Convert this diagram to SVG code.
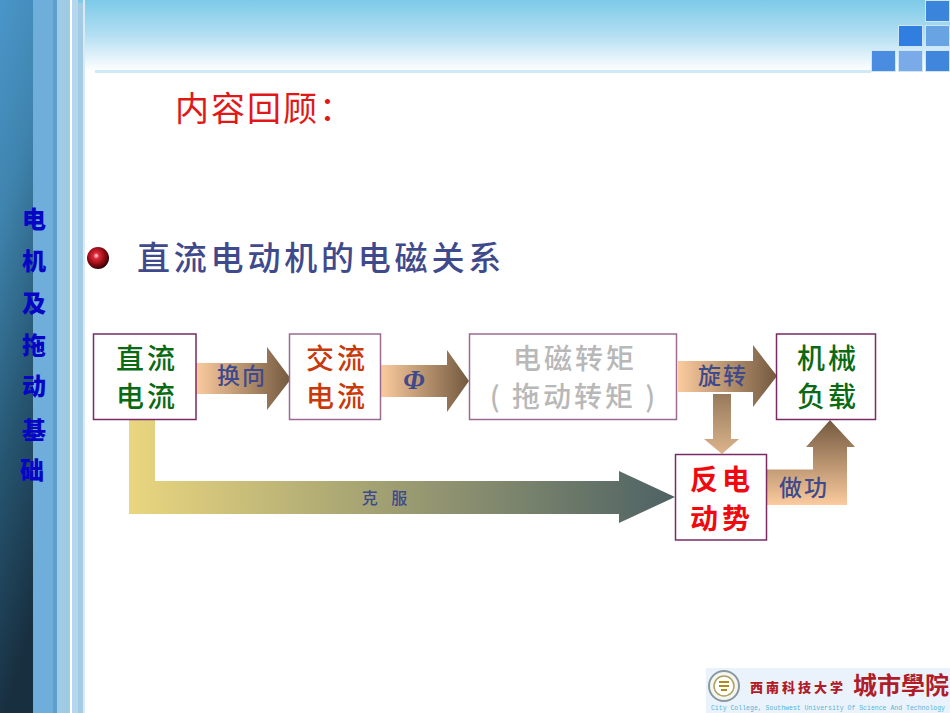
<svg xmlns="http://www.w3.org/2000/svg" width="950" height="713" viewBox="0 0 950 713">
<defs>
<linearGradient id="side" x1="0" y1="0" x2="0.15" y2="1"><stop offset="0" stop-color="#4a96ca"/><stop offset="0.3" stop-color="#3f84ae"/><stop offset="0.65" stop-color="#265570"/><stop offset="1" stop-color="#182f40"/></linearGradient>
<linearGradient id="top" x1="0" y1="0" x2="0" y2="1"><stop offset="0" stop-color="#7ccae8"/><stop offset="0.5" stop-color="#b4dff2"/><stop offset="1" stop-color="#ffffff"/></linearGradient>
<linearGradient id="ar" x1="0" y1="0" x2="1" y2="0"><stop offset="0" stop-color="#fbcb9e"/><stop offset="1" stop-color="#73593f"/></linearGradient>
<linearGradient id="ad" x1="0" y1="0" x2="0" y2="1"><stop offset="0" stop-color="#967a5c"/><stop offset="1" stop-color="#dcb48c"/></linearGradient>
<linearGradient id="au" x1="0" y1="1" x2="0" y2="0"><stop offset="0" stop-color="#fbcb9e"/><stop offset="1" stop-color="#73593f"/></linearGradient>
<linearGradient id="long" gradientUnits="userSpaceOnUse" x1="129" y1="0" x2="675" y2="0"><stop offset="0" stop-color="#ead67f"/><stop offset="1" stop-color="#4d6264"/></linearGradient>
<radialGradient id="ball" cx="0.42" cy="0.4" r="0.62"><stop offset="0" stop-color="#ffe0e0"/><stop offset="0.22" stop-color="#e02838"/><stop offset="0.65" stop-color="#8c0a12"/><stop offset="1" stop-color="#280306"/></radialGradient>
<style>
text{font-family:"Noto Sans CJK SC","Noto Sans",sans-serif;text-anchor:middle}
.box{fill:#fff;stroke:#7a2a66;stroke-width:1.5}
.t{font-size:28px;font-weight:500;letter-spacing:3px}
.e{font-size:28px;font-weight:700;letter-spacing:4px}
.lab{font-size:23px;font-weight:500;fill:#3f4a8c;letter-spacing:2px}
.sb{font-size:24px;font-weight:900;fill:#0606c4}
</style>
</defs>
<rect width="950" height="713" fill="#fff"/>
<g id="background">
<rect x="78" y="0" width="872" height="71" fill="url(#top)"/>
<rect x="0" y="0" width="33" height="713" fill="url(#side)"/>
<rect x="33" y="0" width="20" height="713" fill="#6fadda"/>
<rect x="53" y="0" width="4" height="713" fill="#5da0cf"/>
<rect x="57" y="0" width="13" height="713" fill="#9fcbe4"/>
<rect x="70" y="0" width="2" height="713" fill="#fff"/>
<rect x="72" y="0" width="6" height="713" fill="#b5d6ec"/>
<rect x="78" y="3" width="5" height="710" fill="#a3cbe4"/>
<rect x="83" y="0" width="2" height="713" fill="#d8eaf6"/>
<rect x="95" y="70" width="776" height="3" fill="#cfe9f7"/>
<g stroke="#cde6f6" stroke-width="1">
<rect x="925.500" y="0.500" width="24" height="21" fill="#3a84dc"/>
<rect x="898.500" y="25.500" width="24" height="21" fill="#2f7ee0"/>
<rect x="925.500" y="25.500" width="24" height="21" fill="#68a4e4"/>
<rect x="871.500" y="50.500" width="24" height="21" fill="#4a8cdf"/>
<rect x="898.500" y="50.500" width="24" height="21" fill="#7aaae8"/>
<rect x="925.500" y="50.500" width="24" height="21" fill="#3f86dc"/>
</g>
</g>
<g id="sidebar-title">
<text class="sb" x="34" y="228">电</text>
<text class="sb" x="34" y="270">机</text>
<text class="sb" x="34" y="312">及</text>
<text class="sb" x="34" y="354">拖</text>
<text class="sb" x="34" y="395">动</text>
<text class="sb" x="34" y="439">基</text>
<text class="sb" x="32" y="479">础</text>
</g>
<g id="heading">
<text x="175" y="121" font-size="34" fill="#e01818" font-weight="400" style="text-anchor:start;letter-spacing:2px">内容回顾：</text>
<circle cx="98" cy="258" r="11" fill="url(#ball)"/>
<text x="321" y="270" font-size="33" font-weight="500" fill="#3f4a8c" style="letter-spacing:3.800px">直流电动机的电磁关系</text>
</g>
<g id="connectors">
<path d="M129 420H155V481H619V471L675 497L619 523V514H129Z" fill="url(#long)"/>
<path d="M196 363H267V347L291 379L267 410V394H196Z" fill="url(#ar)"/>
<path d="M381 365H447V350L469 381L447 412V397H381Z" fill="url(#ar)"/>
<path d="M678 361H753V345L777 376L753 407V392H678Z" fill="url(#ar)"/>
<path d="M713 394H731V439H739L722 454L704 439H713Z" fill="url(#ad)"/>
<path d="M767 469.500H813V447H806L830 420L855 447H847V505H767Z" fill="url(#au)"/>
<text class="lab" x="242" y="384">换向</text>
<text class="lab" x="415" y="389" style="font-family:'Liberation Serif',serif;font-style:italic;font-weight:700;font-size:27px">Φ</text>
<text class="lab" x="723" y="384">旋转</text>
<text class="lab" x="804" y="496">做功</text>
<text x="387" y="504" font-size="16" font-weight="500" fill="#3f4a8c" style="letter-spacing:5px">克 服</text>
</g>
<g id="node-dc">
<rect class="box" x="93.500" y="334" width="102.500" height="85.500"/>
<text class="t" fill="#0a6a14" x="147" y="369">直流</text>
<text class="t" fill="#0a6a14" x="147" y="407">电流</text>
</g>
<g id="node-ac">
<rect class="box" x="289.500" y="334" width="91" height="85.500" style="stroke:#9a6a92"/>
<text class="t" fill="#c8390c" x="337" y="369">交流</text>
<text class="t" fill="#c8390c" x="337" y="407">电流</text>
</g>
<g id="node-torque">
<rect class="box" x="469.500" y="334" width="207" height="85.500" style="stroke:#9a6a92"/>
<text class="t" fill="#b8b8b8" x="575" y="369">电磁转矩</text>
<text class="t" fill="#b8b8b8" x="574" y="407">( 拖动转矩 )</text>
</g>
<g id="node-load">
<rect class="box" x="776.500" y="334" width="99" height="85.500"/>
<text class="t" fill="#0a6a14" x="828" y="369">机械</text>
<text class="t" fill="#0a6a14" x="828" y="407">负载</text>
</g>
<g id="node-emf">
<rect class="box" x="675.500" y="454.500" width="91" height="85.500"/>
<text class="e" fill="#f00a10" x="722" y="490">反电</text>
<text class="e" fill="#f00a10" x="722" y="529">动势</text>
</g>
<g id="logo">
<rect x="706" y="668" width="244" height="45" fill="#eaf3fb"/>
<circle cx="724" cy="686" r="15" fill="#f4f6f2" stroke="#8a98a0" stroke-width="2"/>
<circle cx="724" cy="686" r="10" fill="#fff" stroke="#b0a060" stroke-width="1.500"/>
<path d="M719 682h10M719 686h10M721 690h6" stroke="#b08a20" stroke-width="2" fill="none"/>
<text x="798" y="692" font-size="13" font-weight="900" fill="#b01c28" style="letter-spacing:3px">西南科技大学</text>
<text x="901" y="694" font-size="24" font-weight="700" fill="#b01c28">城市學院</text>
<text x="828" y="710" font-size="6.500" fill="#58b4d8" style="font-family:'Liberation Mono',monospace">City College, Southwest University Of Science And Technology</text>
</g>
</svg>
